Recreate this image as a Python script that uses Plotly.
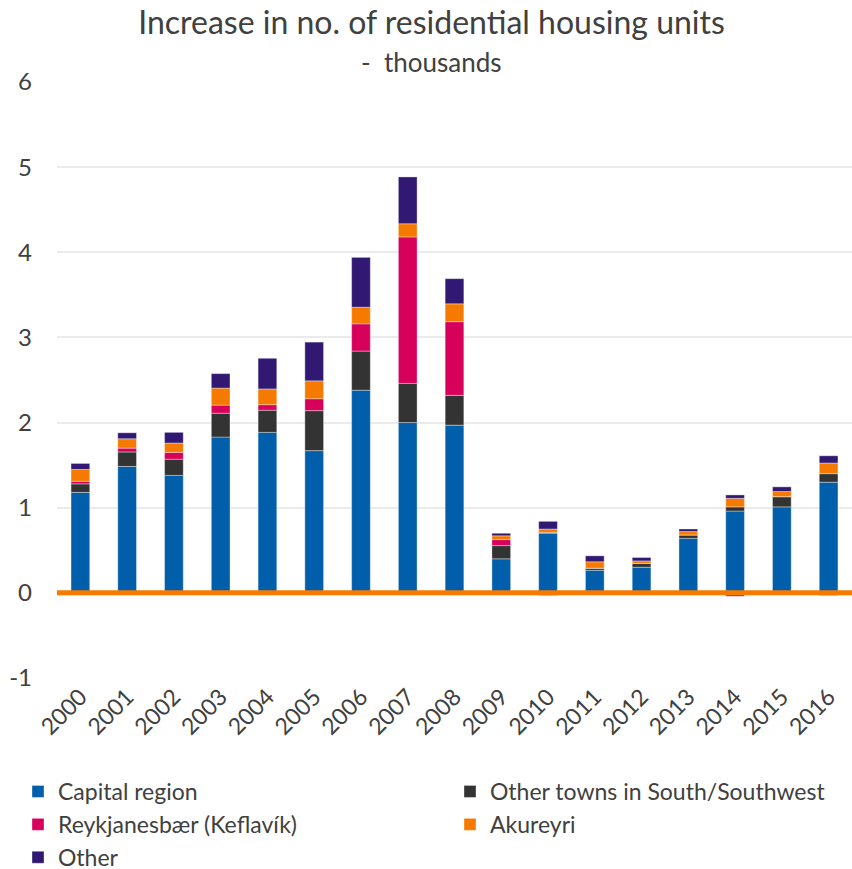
import plotly.graph_objects as go

# Yearly increase in residential housing units, thousands, by region
years = ["2000", "2001", "2002", "2003", "2004", "2005", "2006", "2007", "2008",
         "2009", "2010", "2011", "2012", "2013", "2014", "2015", "2016"]

capital_region = [1.18, 1.485, 1.38, 1.83, 1.885, 1.67, 2.38, 2.00, 1.97,
                  0.40, 0.70, 0.265, 0.30, 0.64, 0.96, 1.01, 1.30]
other_towns_sw = [0.10, 0.17, 0.19, 0.28, 0.26, 0.47, 0.46, 0.46, 0.35,
                  0.155, 0.01, 0.025, 0.045, 0.04, 0.05, 0.12, 0.10]
reykjanesbaer = [0.03, 0.045, 0.08, 0.095, 0.065, 0.14, 0.32, 1.72, 0.865,
                 0.07, -0.03, 0.0, 0.0, 0.0, -0.04, 0.0, -0.03]
akureyri = [0.14, 0.11, 0.11, 0.20, 0.185, 0.21, 0.195, 0.155, 0.21,
            0.045, 0.04, 0.075, 0.03, 0.04, 0.10, 0.06, 0.125]
other = [0.07, 0.07, 0.125, 0.17, 0.36, 0.455, 0.585, 0.55, 0.295,
         0.03, 0.09, 0.07, 0.04, 0.03, 0.04, 0.055, 0.085]

# y-axis ticks, labelled with a plain hyphen for negatives
y_ticks = [-1, 0, 1, 2, 3, 4, 5, 6]
y_tick_labels = ["-1", "0", "1", "2", "3", "4", "5", "6"]

# (name, values, colour, legend column)
series = [
    ("Capital region", capital_region, "#005EAB", "legend"),
    ("Other towns in South/Southwest", other_towns_sw, "#333333", "legend2"),
    ("Reykjanesbær (Keflavík)", reykjanesbaer, "#D7005B", "legend"),
    ("Akureyri", akureyri, "#F77A00", "legend2"),
    ("Other", other, "#311873", "legend"),
]

FONT = "Lato, 'Open Sans', sans-serif"
TEXT = "#404040"

fig = go.Figure()
for name, vals, color, leg in series:
    fig.add_trace(go.Bar(
        x=years, y=vals, name=name, legend=leg,
        marker=dict(color=color, line=dict(color="rgba(255,255,255,0.45)", width=0.8)),
    ))

legend_style = dict(
    orientation="v",
    traceorder="normal",
    xanchor="left", xref="container",
    y=1 - 770 / 869, yanchor="top", yref="container",
    font=dict(family=FONT, size=23, color=TEXT),
    itemwidth=30,
    tracegroupgap=0,
    bgcolor="rgba(0,0,0,0)",
)

fig.update_layout(
    barmode="relative",
    bargap=0.6,
    width=852, height=869,
    margin=dict(l=57, r=0, t=82, b=191, autoexpand=False),
    paper_bgcolor="white",
    plot_bgcolor="white",
    font=dict(family=FONT, color=TEXT, size=24),
    title=dict(
        text="Increase in no. of residential housing units",
        x=(431.5 - 57) / 795, xanchor="center", xref="paper",
        y=1 - 23 / 869, yanchor="middle", yref="container",
        font=dict(family=FONT, size=32, color=TEXT),
    ),
    showlegend=True,
    legend=dict(x=18 / 852, **legend_style),
    legend2=dict(x=450 / 852, **legend_style),
    xaxis=dict(
        tickangle=-45,
        showgrid=False,
        showline=False,
        ticks="",
        automargin=False,
        tickfont=dict(family=FONT, size=23, color=TEXT),
    ),
    yaxis=dict(
        range=[-1, 6],
        tickmode="array",
        tickvals=y_ticks,
        ticktext=y_tick_labels,
        showgrid=True,
        gridcolor="#EBEBEB",
        gridwidth=1.5,
        zeroline=False,
        showline=False,
        ticks="",
        automargin=False,
        ticklabelstandoff=24,
        tickfont=dict(family=FONT, size=24, color=TEXT),
    ),
    annotations=[dict(
        text="-  thousands", xref="paper", yref="paper",
        x=(431 - 57) / 795, y=1 + 20 / 596, yanchor="middle", xanchor="center",
        showarrow=False,
        font=dict(family=FONT, size=26, color=TEXT),
    )],
    shapes=[dict(
        type="line", xref="paper", yref="y",
        x0=0, x1=1, y0=0, y1=0,
        line=dict(color="#F77A00", width=5),
        layer="above",
    )],
)

fig.write_html("out.html")
